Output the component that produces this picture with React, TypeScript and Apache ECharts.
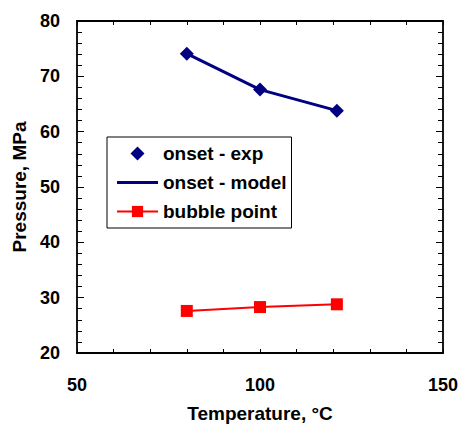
import React, { useEffect, useRef } from "react";
import * as echarts from "echarts";

const temps = [80, 100, 121];
const onsetExp = [74.1, 67.6, 63.8];
const onsetModel = [74.1, 67.6, 63.8];
const bubblePoint = [27.6, 28.3, 28.8];

const NAVY = "#000080";
const RED = "#FF0000";
const FONT = "Liberation Sans, Arial, sans-serif";

export default function App() {
  const ref = useRef<HTMLDivElement>(null);
  useEffect(() => {
    const chart = echarts.init(ref.current!, null, { renderer: "svg" });
    const axisLine = { show: true, onZero: false, lineStyle: { color: "#000", width: 1.8 } };
    const tickStyle = { color: "#000", width: 1 };
    const xBase = {
      type: "value" as const,
      min: 50,
      max: 150,
      interval: 50,
      axisLine,
      axisTick: { show: true, inside: true, length: 4, lineStyle: tickStyle },
      minorTick: { show: true, splitNumber: 5, length: 4, lineStyle: tickStyle },
      splitLine: { show: false },
      minorSplitLine: { show: false },
    };
    const yBase = {
      type: "value" as const,
      min: 20,
      max: 80,
      interval: 10,
      axisLine,
      axisTick: { show: true, inside: true, length: 7, lineStyle: tickStyle },
      minorTick: { show: true, splitNumber: 5, length: 5, lineStyle: tickStyle },
      splitLine: { show: false },
      minorSplitLine: { show: false },
    };
    chart.setOption({
      animation: false,
      backgroundColor: "#fff",
      grid: { left: 77, right: 16, top: 21, bottom: 72, outerBoundsMode: "none" },
      legend: {
        orient: "vertical",
        left: 107,
        top: 137,
        padding: [7, 5, 7, 9],
        borderColor: "#000",
        borderWidth: 1,
        itemWidth: 41,
        itemHeight: 14,
        itemGap: 10,
        symbolKeepAspect: true,
        textStyle: { fontFamily: FONT, fontWeight: "bold", fontSize: 19, color: "#000" },
        data: [
          { name: "onset - exp", icon: "path://M7,0L14,7L7,14L0,7Z" },
          { name: "onset - model", icon: "path://M0,0H41V3H0Z" },
          { name: "bubble point" },
        ],
      },
      xAxis: [
        {
          ...xBase,
          position: "bottom",
          axisLabel: { margin: 23, fontFamily: FONT, fontWeight: "bold", fontSize: 18, color: "#000" },
          name: "Temperature, °C",
          nameLocation: "middle",
          nameGap: 51,
          nameTextStyle: { fontFamily: FONT, fontWeight: "bold", fontSize: 19, color: "#000" },
        },
        { ...xBase, position: "top", axisLabel: { show: false } },
      ],
      yAxis: [
        {
          ...yBase,
          position: "left",
          axisLabel: { margin: 17, fontFamily: FONT, fontWeight: "bold", fontSize: 18, color: "#000" },
          name: "Pressure, MPa",
          nameLocation: "middle",
          nameGap: 46,
          nameTextStyle: { fontFamily: FONT, fontWeight: "bold", fontSize: 19, color: "#000" },
        },
        { ...yBase, position: "right", axisLabel: { show: false } },
      ],
      series: [
        {
          name: "onset - model",
          type: "line",
          data: temps.map((t, i) => [t, onsetModel[i]]),
          symbol: "none",
          lineStyle: { color: NAVY, width: 3 },
          itemStyle: { color: NAVY },
          z: 2,
        },
        {
          name: "onset - exp",
          type: "scatter",
          data: temps.map((t, i) => [t, onsetExp[i]]),
          symbol: "diamond",
          symbolSize: 14,
          itemStyle: { color: NAVY, opacity: 1 },
          z: 3,
        },
        {
          name: "bubble point",
          type: "line",
          data: temps.map((t, i) => [t, bubblePoint[i]]),
          symbol: "rect",
          symbolSize: 12,
          lineStyle: { color: RED, width: 2 },
          itemStyle: { color: RED },
          z: 3,
        },
      ],
    });
    return () => chart.dispose();
  }, []);
  return <div ref={ref} style={{ width: 459, height: 425, position: "absolute", left: 0, top: 0 }} />;
}
